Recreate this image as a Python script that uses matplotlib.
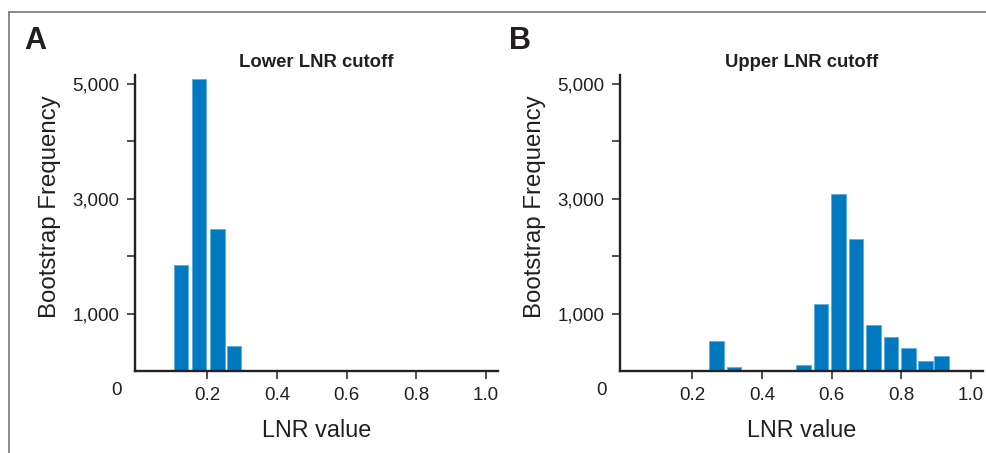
import matplotlib
matplotlib.use("Agg")
import matplotlib.pyplot as plt
from matplotlib.lines import Line2D

# bootstrap histograms of the LNR cutoffs
lower_x = [0.125, 0.177, 0.229, 0.277]
lower_n = [1850, 5080, 2470, 445]

upper_x = [0.22, 0.27, 0.32, 0.52, 0.57, 0.62, 0.67, 0.72, 0.77, 0.82, 0.87, 0.915]
upper_n = [15, 525, 80, 113, 1170, 3080, 2305, 800, 600, 415, 185, 265]

xticks = [0.2, 0.4, 0.6, 0.8, 1.0]
xticklabels = ["0.2", "0.4", "0.6", "0.8", "1.0"]
yticks = [1000, 3000, 5000]
yticklabels = ["1,000", "3,000", "5,000"]
yminor = [2000, 4000]

panels = [("A", "Lower LNR cutoff", lower_x, lower_n),
          ("B", "Upper LNR cutoff", upper_x, upper_n)]

plt.rcParams['font.family'] = ['Liberation Sans', 'DejaVu Sans']
txt = '#231f20'
blue = '#0079c1'

fig = plt.figure(figsize=(9.87, 4.53), dpi=100)
lefts = [0.1368, 0.6282]

for left, (letter, title, xs, ns) in zip(lefts, panels):
    ax = fig.add_axes([left, 0.18, 0.368, 0.6545])
    ax.bar(xs, ns, width=0.042, color=blue, edgecolor='#5aaee0', linewidth=0.6)
    ax.set_xlim(-0.007, 1.035)
    ax.set_ylim(0, 5150)
    ax.set_xticks(xticks)
    ax.set_xticklabels(xticklabels)
    ax.set_yticks(yticks)
    ax.set_yticklabels(yticklabels)
    ax.set_yticks(yminor, minor=True)
    ax.tick_params(axis='both', which='both', direction='out', length=6,
                   width=1.2, color='#333333', labelsize=13.5, labelcolor=txt, pad=5)
    for s in ['top', 'right']:
        ax.spines[s].set_visible(False)
    for s in ['left', 'bottom']:
        ax.spines[s].set_linewidth(1.7)
        ax.spines[s].set_color('#222222')
    ax.set_ylabel("Bootstrap Frequency", fontsize=17.3, color=txt)
    ax.yaxis.set_label_coords(-0.205, 0.555)
    ax.set_xlabel("LNR value", fontsize=16.8, color=txt, labelpad=11)
    ax.set_title(title, fontsize=13.3, fontweight='bold', color=txt, pad=6)
    ax.annotate("0", xy=(0, 0), xycoords='data', xytext=(-15, -13.5),
                textcoords='offset points', ha='center', va='center',
                fontsize=13.5, color=txt, annotation_clip=False)
    fig.text(left - 0.112, 0.9095, letter, fontsize=22, fontweight='bold',
             color=txt, ha='left', va='center')

# frame lines at the top and left of the figure
fig.add_artist(Line2D([0.0091, 1.0], [0.9735, 0.9735], color='#777777', lw=1.2))
fig.add_artist(Line2D([0.0091, 0.0091], [0.0, 0.9735], color='#777777', lw=1.2))

fig.savefig("out.png", dpi=100)
